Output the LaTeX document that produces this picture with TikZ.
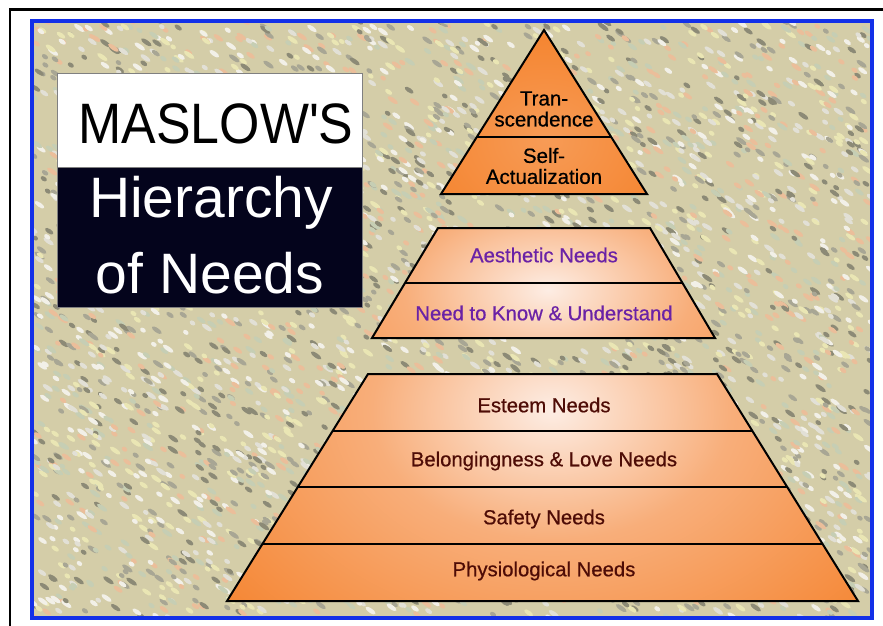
\documentclass[tikz,border=0pt]{standalone}
\usepackage{fontspec}
\setmainfont{Liberation Sans}
\newfontfamily\pyrfont[FakeBold=0.6]{Liberation Sans}
\usetikzlibrary{calc}
\definecolor{stone}{HTML}{D4CDA8}
\definecolor{spot1}{HTML}{F2F0E8}
\definecolor{spot2}{HTML}{A8A694}
\definecolor{spot3}{HTML}{EBBE9A}
\definecolor{spot4}{HTML}{EAE6B4}
\definecolor{spot5}{HTML}{C6CEB4}
\definecolor{spot6}{HTML}{8C8A76}
\definecolor{spot7}{HTML}{E2E0D6}
\definecolor{frameblue}{HTML}{1330E8}
\definecolor{titledark}{HTML}{04041C}
\definecolor{pyorange}{HTML}{F47A1E}
\definecolor{pymid}{HTML}{F8AE7A}
\definecolor{pylight}{HTML}{FDEDE4}
\definecolor{purpletext}{HTML}{6A22A6}
\definecolor{redtext}{HTML}{4E0C06}
\pgfdeclareradialshading{glow}{\pgfpoint{0bp}{0bp}}{color(0bp)=(pylight); color(9bp)=(pymid); color(25bp)=(pyorange); color(50bp)=(pyorange)}
\pgfdeclareradialshading{softglow}{\pgfpoint{0bp}{0bp}}{color(0bp)=(pyorange!75!white); color(25bp)=(pyorange); color(50bp)=(pyorange)}
\begin{document}
\begin{tikzpicture}[x=1pt,y=-1pt,
  bandline/.style={draw=black,line width=2pt,line join=miter},
  toptext/.style={text=black,font=\pyrfont\fontsize{20.5}{22}\selectfont,align=center,inner sep=0pt},
  midtext/.style={text=purpletext,font=\pyrfont\fontsize{20.3}{22}\selectfont,inner sep=0pt},
  lowtext/.style={text=redtext,font=\pyrfont\fontsize{20.3}{22}\selectfont,inner sep=0pt},
  titletext/.style={font=\fontsize{57}{60}\selectfont,inner sep=0pt,anchor=base}]
\useasboundingbox (0,0) rectangle (883,626);
\fill[white] (0,0) rectangle (883,626);
% outer black frame (cut at right and bottom)
\draw[black,line width=2.6pt] (9.8,630) -- (9.8,9.8) -- (890,9.8);
% stone texture
\fill[stone] (32,21) rectangle (871,618);
\begin{scope}
\clip (32,21) rectangle (871,618);
\pgfmathsetseed{12}
\foreach \i in {1,...,4200}{
  \pgfmathsetmacro{\px}{32+839*rnd}
  \pgfmathsetmacro{\py}{21+597*rnd}
  \pgfmathsetmacro{\pr}{3+3.5*rnd}
  \pgfmathrandominteger{\c}{1}{7}
  \fill[spot\c,rotate around={-35:(\px,\py)}] (\px,\py) ellipse (\pr pt and 2.2pt);
}
\end{scope}
% blue frame
\draw[frameblue,line width=4pt] (31.5,21.5) rectangle (871.5,617.5);
% title box
\fill[white,draw=gray,line width=0.8pt] (57,73) rectangle (362,167);
\fill[titledark,draw=gray,line width=0.8pt] (57,167) rectangle (362,307);
\node[titletext] (maslow) at (216,143) {\scalebox{0.91}[1]{MASLOW\textquotesingle S}};
\node[titletext,text=white] (hier) at (211,217) {Hierarchy};
\node[titletext,text=white] (needs) at (210,293) {of Needs};
% top triangle
\coordinate (ta) at (544,30);
\coordinate (tl) at (441,194);
\coordinate (tr) at (647,194);
\coordinate (tdl) at ($(ta)!107/164!(tl)$);
\coordinate (tdr) at ($(ta)!107/164!(tr)$);
\begin{scope}
\clip (ta) -- (tl) -- (tr) -- cycle;
\fill[pyorange] (430,20) rectangle (660,200);
\shade[shading=softglow] (546,140) ellipse (200 and 160);
\end{scope}
\draw[bandline] (ta) -- (tl) -- (tr) -- cycle;
\draw[bandline] (tdl) -- (tdr);
% middle trapezoid
\coordinate (mtl) at (438,228);
\coordinate (mtr) at (650,228);
\coordinate (mbl) at (372,338);
\coordinate (mbr) at (715,338);
\coordinate (mdl) at ($(mtl)!0.5!(mbl)$);
\coordinate (mdr) at ($(mtr)!0.5!(mbr)$);
\begin{scope}
\clip (mtl) -- (mtr) -- (mbr) -- (mbl) -- cycle;
\fill[pyorange] (360,220) rectangle (730,345);
\shade[shading=glow] (548,290) ellipse (400 and 240);
\end{scope}
\draw[bandline] (mtl) -- (mtr) -- (mbr) -- (mbl) -- cycle;
\draw[bandline] (mdl) -- (mdr);
% bottom trapezoid
\coordinate (btl) at (368,374);
\coordinate (btr) at (717,374);
\coordinate (bbl) at (227,601);
\coordinate (bbr) at (858,601);
\coordinate (bd1l) at ($(btl)!57/227!(bbl)$);
\coordinate (bd1r) at ($(btr)!57/227!(bbr)$);
\coordinate (bd2l) at ($(btl)!113/227!(bbl)$);
\coordinate (bd2r) at ($(btr)!113/227!(bbr)$);
\coordinate (bd3l) at ($(btl)!170/227!(bbl)$);
\coordinate (bd3r) at ($(btr)!170/227!(bbr)$);
\begin{scope}
\clip (btl) -- (btr) -- (bbr) -- (bbl) -- cycle;
\fill[pyorange] (220,370) rectangle (865,605);
\shade[shading=glow] (552,410) ellipse (500 and 360);
\end{scope}
\draw[bandline] (btl) -- (btr) -- (bbr) -- (bbl) -- cycle;
\draw[bandline] (bd1l) -- (bd1r);
\draw[bandline] (bd2l) -- (bd2r);
\draw[bandline] (bd3l) -- (bd3r);
% labels
\node[toptext] (tran) at (544,109) {Tran-\\[-1pt]scendence};
\node[toptext] (self) at (544,166) {Self-\\[-1pt]Actualization};
\node[midtext] (aes) at (544,255) {Aesthetic Needs};
\node[midtext] (know) at (544,313) {Need to Know \& Understand};
\node[lowtext] (est) at (544,405) {Esteem Needs};
\node[lowtext] (bel) at (544,461) {Belongingness \& Love Needs};
\node[lowtext] (saf) at (544,519) {Safety Needs};
\node[lowtext] (phy) at (544,571) {Physiological Needs};
\end{tikzpicture}
\end{document}
